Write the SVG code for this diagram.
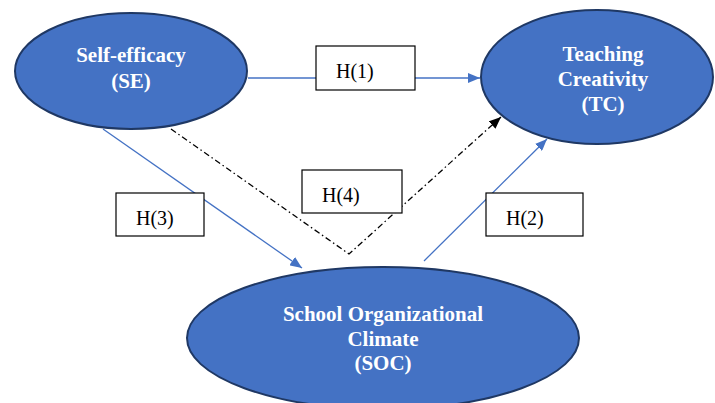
<svg xmlns="http://www.w3.org/2000/svg" width="715" height="403" viewBox="0 0 715 403">
<defs>
<marker id="ab" viewBox="0 0 12 10" refX="12" refY="5" markerWidth="12" markerHeight="10" markerUnits="userSpaceOnUse" orient="auto"><path d="M0,0 L12,5 L0,10 Z" fill="#4472C4"/></marker>
<marker id="ak" viewBox="0 0 12 10" refX="12" refY="5" markerWidth="12" markerHeight="10" markerUnits="userSpaceOnUse" orient="auto"><path d="M0,0 L12,5 L0,10 Z" fill="#000"/></marker>
</defs>
<style>
.node ellipse{fill:#4472C4;stroke:#1F3864;stroke-width:2}
.node text{font-family:"Liberation Serif","Times New Roman",serif;font-weight:bold;font-size:21px;fill:#fff;text-anchor:middle}
.lbl rect{fill:#fff;stroke:#000;stroke-width:1.2}
.lbl text{font-family:"Liberation Serif","Times New Roman",serif;font-size:20px;fill:#000}
.blue{stroke:#4472C4;stroke-width:1.3;fill:none}
.dd{stroke:#000;stroke-width:1.3;fill:none;stroke-dasharray:6 3 1.5 3}
</style>
<rect width="715" height="403" fill="#fff"/>
<g id="connectors">
<line class="blue" x1="248" y1="78" x2="316" y2="78"/>
<line class="blue" x1="415" y1="78" x2="480" y2="78" marker-end="url(#ab)"/>
<line class="blue" x1="103" y1="129" x2="302" y2="268" marker-end="url(#ab)"/>
<line class="blue" x1="424" y1="261" x2="547" y2="139" marker-end="url(#ab)"/>
<polyline class="dd" points="171,129 349,254 501,117" marker-end="url(#ak)"/>
</g>
<g id="SE" class="node">
<ellipse cx="131" cy="71" rx="116" ry="58"/>
<text x="131" y="62">Self-efficacy</text>
<text x="131" y="88">(SE)</text>
</g>
<g id="TC" class="node">
<ellipse cx="597" cy="77" rx="116" ry="67"/>
<text x="603" y="61">Teaching</text>
<text x="603" y="86">Creativity</text>
<text x="603" y="111">(TC)</text>
</g>
<g id="SOC" class="node">
<ellipse cx="383" cy="338" rx="196" ry="71"/>
<text x="383" y="321">School Organizational</text>
<text x="383" y="346">Climate</text>
<text x="383" y="370">(SOC)</text>
</g>
<g id="H1" class="lbl"><rect x="316" y="46" width="99" height="44"/><text x="336" y="78">H(1)</text></g>
<g id="H3" class="lbl"><rect x="116" y="193" width="88" height="43"/><text x="136" y="225">H(3)</text></g>
<g id="H4" class="lbl"><rect x="302" y="170" width="100" height="43"/><text x="322" y="202">H(4)</text></g>
<g id="H2" class="lbl"><rect x="486" y="193" width="97" height="43"/><text x="506" y="225">H(2)</text></g>
</svg>
